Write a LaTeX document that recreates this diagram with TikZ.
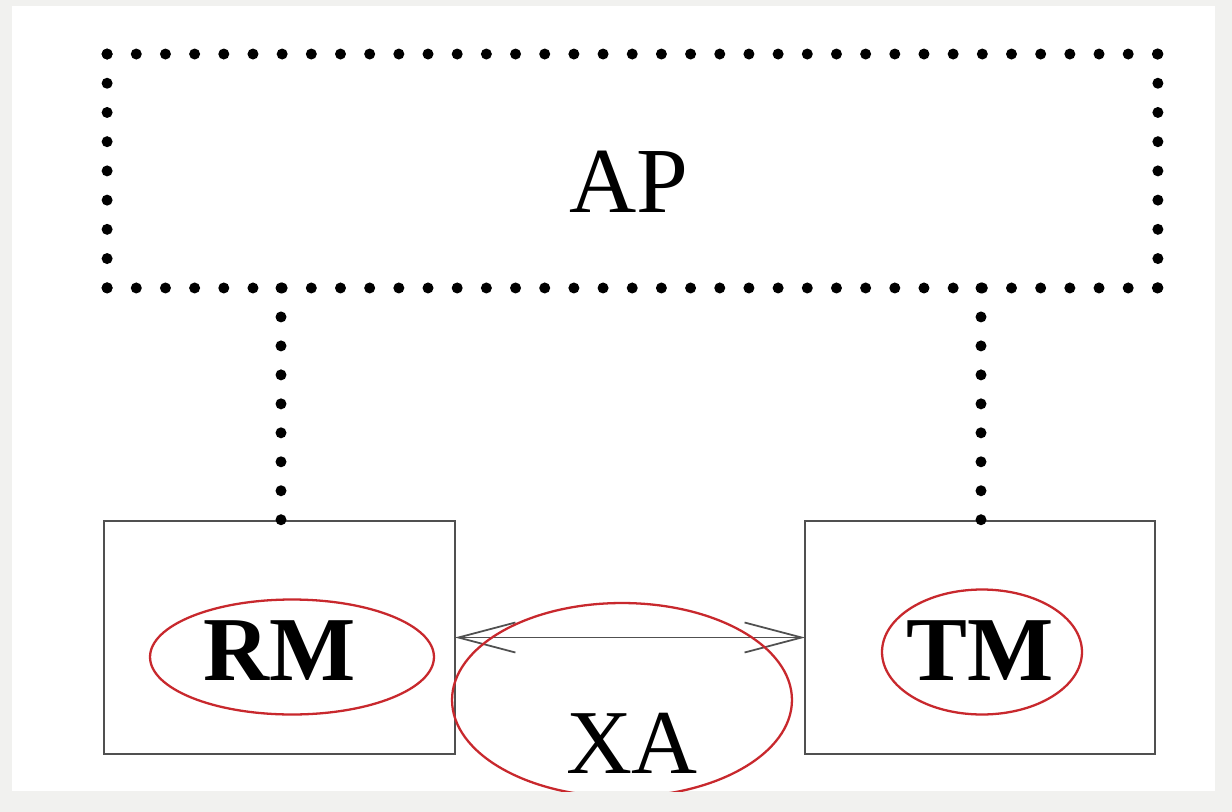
\documentclass[tikz,border=0pt]{standalone}
\usepackage{fontspec}
\setmainfont{Liberation Serif}
\usetikzlibrary{arrows.meta,shapes.geometric}
\definecolor{bggray}{RGB}{241,241,239}
\definecolor{ellred}{RGB}{200,40,45}
\definecolor{boxgray}{RGB}{80,80,80}
\begin{document}
\begin{tikzpicture}[x=0.02cm,y=-0.02cm,
  dotline/.style={line width=0.22cm, line cap=round, dash pattern=on 0pt off #1},
  plainbox/.style={draw=boxgray, line width=0.85pt, minimum width=7.02cm, minimum height=4.66cm, inner sep=0pt, outer sep=0pt},
  redell/.style={ellipse, draw=ellred, line width=1.3pt, inner sep=0pt, outer sep=0pt},
  lbl/.style={font=\fontsize{52}{52}\selectfont, anchor=base, inner sep=0pt},
  arrline/.style={draw=boxgray, line width=1pt},
  barb/.tip={Straight Barb[length=1.14cm,width=0.6cm]}
]
\fill[bggray] (0,0) rectangle (1232,812);
\fill[white] (12,6) rectangle (1215,791);
\useasboundingbox (0,0) rectangle (1232,812);

% AP area
\node[inner sep=0pt, outer sep=0pt, minimum width=21.02cm, minimum height=4.68cm] (ap) at (632.5,171) {};
\node[lbl, font=\fontsize{53}{53}\selectfont] (aptext) at (629,212) {AP};
\draw[dotline=0.5836cm] (ap.north west) -- (ap.north east);
\draw[dotline=0.5836cm] (ap.south west) -- (ap.south east);
\draw[dotline=0.5845cm] (ap.north west) -- (ap.south west);
\draw[dotline=0.5845cm] (ap.north east) -- (ap.south east);

% boxes
\node[plainbox] (rm) at (279.5,637.5) {};
\node[plainbox, minimum width=7.0cm] (tm) at (980,637.5) {};

% dotted connectors
\coordinate (rmc) at (281,521);
\coordinate (tmc) at (981,521);
\draw[dotline=0.5795cm] (ap.south -| rmc) -- (rmc);
\draw[dotline=0.5795cm] (ap.south -| tmc) -- (tmc);

% double arrow
\draw[arrline, barb-barb] (rm.east) -- (tm.west);

% texts
\node[lbl, font=\fontsize{52}{52}\selectfont\bfseries] (rmtext) at (280,680) {RM};
\node[lbl, font=\fontsize{52}{52}\selectfont\bfseries] (tmtext) at (980,680) {TM};
\node[lbl] (xatext) at (632,773) {XA};

% red ellipses
\node[redell, minimum width=5.68cm, minimum height=2.3cm] (rmell) at (292,657) {};
\node[redell, minimum width=4.0cm, minimum height=2.5cm] (tmell) at (982,652) {};
\begin{scope}
  \clip (12,6) rectangle (1215,791);
  \node[redell, minimum width=6.8cm, minimum height=3.88cm] (xaell) at (622,700) {};
\end{scope}
\end{tikzpicture}
\end{document}
